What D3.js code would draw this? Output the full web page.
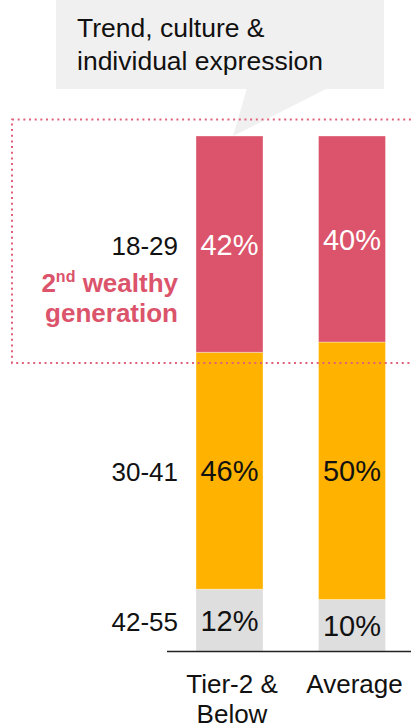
<!DOCTYPE html>
<html>
<head>
<meta charset="utf-8">
<script src="https://cdn.jsdelivr.net/npm/d3@7/dist/d3.min.js"></script>
<style>
  html, body { margin: 0; padding: 0; background: #fff; }
  svg { display: block; font-family: "Liberation Sans", Arial, sans-serif; }
</style>
</head>
<body>
<svg id="chart" width="411" height="728"></svg>
<script>
// Age bands, drawn from the top of each bar down
const ageGroups = ["18-29", "30-41", "42-55"];
const categories = ["Tier-2 & Below", "Average"];
const categoryLines = [["Tier-2 &", "Below"], ["Average"]];
// Share of each age band (%) per city group
const tier2Values = [42, 46, 12];
const averageValues = [40, 50, 10];
const segmentColors = ["#db546b", "#ffb300", "#dedede"];
const labelColors = ["#ffffff", "#111111", "#111111"];
const calloutLines = ["Trend, culture &", "individual expression"];

const svg = d3.select("#chart");

const rows = categories.map((c, i) => {
  const vals = i === 0 ? tier2Values : averageValues;
  const r = { category: c };
  ageGroups.forEach((g, j) => r[g] = vals[j]);
  return r;
});

// Stack from the bottom band upwards
const stack = d3.stack().keys(ageGroups.slice().reverse());
const series = stack(rows);

const y = d3.scaleLinear().domain([0, 100]).range([651, 136]);
const x = d3.scalePoint().domain(categories).range([229.5, 352]);
const barW = 67;

// Speech-bubble callout
const callout = svg.append("g");
callout.append("rect")
  .attr("x", 56).attr("y", -10).attr("width", 328).attr("height", 99)
  .attr("fill", "#f0f0f0");
callout.append("path")
  .attr("d", d3.line()([[247, 88], [328, 88], [233, 136]]))
  .attr("fill", "#f0f0f0");
callout.selectAll("text").data(calloutLines).join("text")
  .attr("x", 77).attr("y", (d, i) => 37 + i * 32.5)
  .attr("font-size", 26.5).attr("fill", "#111")
  .text(d => d);

// Stacked bars
const layers = svg.append("g").selectAll("g").data(series).join("g")
  .attr("fill", d => segmentColors[ageGroups.indexOf(d.key)]);
layers.selectAll("rect").data(d => d.map(s => ({ s, key: d.key }))).join("rect")
  .attr("x", d => x(d.s.data.category) - barW / 2)
  .attr("width", barW)
  .attr("y", d => y(d.s[1]))
  .attr("height", d => y(d.s[0]) - y(d.s[1]))
  .attr("stroke", "rgba(255,255,255,0.35)")
  .attr("stroke-width", 1);

// Percentage labels centred in each segment
series.forEach(layer => {
  const gi = ageGroups.indexOf(layer.key);
  svg.append("g").selectAll("text").data(layer).join("text")
    .attr("x", d => x(d.data.category))
    .attr("y", d => (y(d[0]) + y(d[1])) / 2)
    .attr("dy", "0.37em")
    .attr("text-anchor", "middle")
    .attr("font-size", 29)
    .attr("fill", labelColors[gi])
    .text(d => (d[1] - d[0]) + "%");
});

// Age band labels, aligned with the first bar's segments
const first = categories[0];
series.forEach(layer => {
  const seg = layer.find(d => d.data.category === first);
  svg.append("text")
    .attr("x", 178)
    .attr("y", (y(seg[0]) + y(seg[1])) / 2)
    .attr("dy", "0.4em")
    .attr("text-anchor", "end")
    .attr("font-size", 26)
    .attr("fill", "#111")
    .text(layer.key);
});

// Highlight note for the youngest band
const note = svg.append("g").attr("fill", "#db546b").attr("font-weight", "bold").attr("font-size", 26);
const t1 = note.append("text").attr("x", 178).attr("y", 292).attr("text-anchor", "end");
t1.append("tspan").text("2");
t1.append("tspan").attr("font-size", 16).attr("dy", -10).text("nd");
t1.append("tspan").attr("dy", 10).text(" wealthy");
note.append("text").attr("x", 178).attr("y", 322).attr("text-anchor", "end").text("generation");

// Dotted highlight frame around the youngest band
svg.append("rect")
  .attr("x", 12).attr("y", 119.5).attr("width", 420).attr("height", 243.5)
  .attr("fill", "none")
  .attr("stroke", "#e0607a")
  .attr("stroke-width", 2)
  .attr("stroke-dasharray", "2 3.67");

// Baseline axis
const axis = svg.append("g").attr("transform", `translate(0,${y(0) + 0.5})`)
  .call(d3.axisBottom(x).tickSize(0).tickFormat(""));
axis.select(".domain").attr("d", "M167,0H411").attr("stroke", "#222").attr("stroke-width", 1.6);

// Category labels, wrapped onto lines
const cats = svg.append("g").selectAll("text").data(categories).join("text")
  .attr("text-anchor", "middle")
  .attr("font-size", 26)
  .attr("fill", "#111");
cats.each(function(d, i) {
  d3.select(this).selectAll("tspan").data(categoryLines[i]).join("tspan")
    .attr("x", x(d) + 2.5)
    .attr("y", (l, j) => 693 + j * 30)
    .text(l => l);
});
</script>
</body>
</html>
